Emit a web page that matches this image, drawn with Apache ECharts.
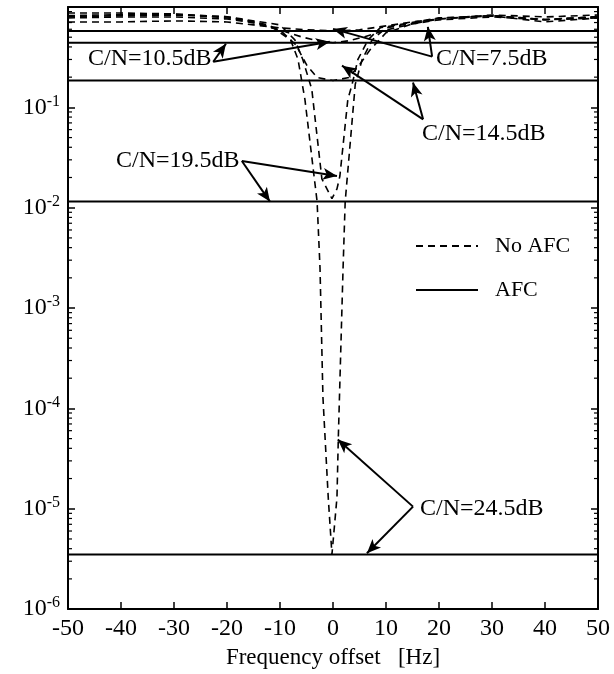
<!DOCTYPE html>
<html>
<head>
<meta charset="utf-8">
<script src="https://cdn.jsdelivr.net/npm/echarts@6/dist/echarts.min.js"></script>
<style>
  html, body { margin: 0; padding: 0; background: #fff; }
  #chart { width: 614px; height: 674px; }
</style>
</head>
<body>
<div id="chart"></div>
<script>
var FONT = '"Liberation Serif", "DejaVu Serif", serif';

// No AFC curves (dashed), x = offset in Hz, y = BER
var noAfc75X = [-50, -40, -30, -20, -15, -10, -5, 0, 5, 10, 15, 20, 30, 40, 50];
var noAfc75Y = [0.71, 0.71, 0.727, 0.71, 0.663, 0.62, 0.592, 0.578, 0.592, 0.648, 0.71, 0.76, 0.815, 0.71, 0.778];

var noAfc105X = [-50, -40, -30, -20, -15, -10, -6, -3, 0, 3, 6, 10, 15, 20, 30, 40, 50];
var noAfc105Y = [0.778, 0.796, 0.796, 0.76, 0.694, 0.59, 0.505, 0.461, 0.44, 0.461, 0.505, 0.59, 0.679, 0.744, 0.796, 0.744, 0.778];

var noAfc145X = [-50, -40, -30, -20, -15, -10, -7, -5, -3, 0, 3, 5, 7, 10, 15, 20, 30, 40, 50];
var noAfc145Y = [0.872, 0.872, 0.853, 0.778, 0.71, 0.59, 0.42, 0.266, 0.198, 0.185, 0.198, 0.266, 0.375, 0.553, 0.679, 0.76, 0.833, 0.796, 0.833];

var noAfc195X = [-50, -40, -30, -20, -10, -7.2, -5.7, -4, -2.1, -0.2, 0.75, 1.3, 2.8, 3.6, 4.7, 6.6, 8.9, 20, 30, 40, 50];
var noAfc195Y = [0.82, 0.84, 0.85, 0.8, 0.663, 0.47, 0.30, 0.151, 0.0194, 0.0123, 0.0154, 0.0207, 0.12, 0.169, 0.30, 0.47, 0.62, 0.78, 0.82, 0.75, 0.8];

var noAfc245X = [-50, -40, -30, -20, -12, -8, -6.6, -5.3, -3, -2.45, -1.9, -0.9, -0.2, 0.75, 1, 1.9, 2.3, 4.2, 5.5, 7.4, 10, 20, 30, 40, 50];
var noAfc245Y = [0.8, 0.82, 0.83, 0.8, 0.66, 0.47, 0.30, 0.12, 0.0115, 0.0025, 1.3e-4, 1.3e-5, 3.5e-6, 1.3e-5, 5e-5, 2.5e-3, 0.0115, 0.17, 0.30, 0.47, 0.62, 0.77, 0.82, 0.75, 0.8];

// AFC (solid, flat) BER for C/N = 7.5, 10.5, 14.5, 19.5, 24.5 dB
var afcY = [0.578, 0.44, 0.185, 0.0115, 3.5e-6];

// annotation arrows: [fromX, fromY, toX, toY]
var arrows = [
  [-22.6, 0.285, -20.2, 0.43],
  [-22.6, 0.285, -0.6, 0.45],
  [18.7, 0.32, 17.9, 0.634],
  [18.7, 0.32, 0, 0.605],
  [17, 0.076, 1.7, 0.26],
  [17, 0.076, 15.1, 0.177],
  [-17.2, 0.0292, 0.75, 0.0207],
  [-17.2, 0.0292, -11.9, 0.0115],
  [15.1, 1.05e-5, 0.9, 4.9e-5],
  [15.1, 1.05e-5, 6.4, 3.6e-6]
];

// minor log ticks 2..9 x 10^k
var minorTicks = [];
for (var k = -6; k < 0; k++) {
  for (var m = 2; m <= 9; m++) minorTicks.push(m * Math.pow(10, k));
}

function pairs(xs, ys) {
  return xs.map(function (x, i) { return [x, ys[i]]; });
}

var dashed = [7, 5];
var series = [];
[[noAfc75X, noAfc75Y], [noAfc105X, noAfc105Y], [noAfc145X, noAfc145Y],
 [noAfc195X, noAfc195Y], [noAfc245X, noAfc245Y]].forEach(function (c) {
  series.push({
    name: 'No AFC', type: 'line', symbol: 'none', silent: true,
    lineStyle: { color: '#000', width: 1.6, type: dashed },
    itemStyle: { color: '#000' },
    data: pairs(c[0], c[1])
  });
});
afcY.forEach(function (v) {
  series.push({
    name: 'AFC', type: 'line', symbol: 'none', silent: true,
    lineStyle: { color: '#000', width: 2, type: 'solid' },
    itemStyle: { color: '#000' },
    data: [[-50, v], [50, v]]
  });
});

// arrows
series.push({
  type: 'line', data: [], silent: true,
  markLine: {
    silent: true, symbol: ['none', 'arrow'], symbolSize: [9, 14],
    label: { show: false },
    lineStyle: { color: '#000', width: 2, type: 'solid' },
    data: arrows.map(function (a) {
      return [{ coord: [a[0], a[1]] }, { coord: [a[2], a[3]] }];
    })
  }
});

// minor ticks on left and right frame
series.push({
  type: 'custom', silent: true, clip: false,
  data: minorTicks.map(function (v) { return [0, v]; }),
  renderItem: function (params, api) {
    var l = api.coord([-50, api.value(1)]);
    var r = api.coord([50, api.value(1)]);
    var st = { stroke: '#000', lineWidth: 1.2 };
    return {
      type: 'group',
      children: [
        { type: 'line', shape: { x1: l[0], y1: l[1], x2: l[0] + 4, y2: l[1] }, style: st },
        { type: 'line', shape: { x1: r[0], y1: r[1], x2: r[0] - 4, y2: r[1] }, style: st }
      ]
    };
  }
});

var chart = echarts.init(document.getElementById('chart'));
var textStyle = { fontFamily: FONT, fontSize: 24, color: '#000' };

chart.setOption({
  animation: false,
  backgroundColor: '#fff',
  grid: { left: 68, right: 16, top: 7, bottom: 61 },
  legend: {
    orient: 'vertical', left: 410, top: 230, itemGap: 22,
    itemWidth: 62, itemHeight: 14,
    data: ['No AFC', 'AFC'],
    itemStyle: { opacity: 0 },
    textStyle: { fontFamily: FONT, fontSize: 22, color: '#000', padding: [0, 0, 0, 12] }
  },
  xAxis: [{
    type: 'value', min: -50, max: 50, interval: 10,
    name: 'Frequency offset   [Hz]', nameLocation: 'middle', nameGap: 36,
    nameTextStyle: { fontFamily: FONT, fontSize: 23, color: '#000' },
    axisLine: { onZero: false, lineStyle: { color: '#000', width: 2 } },
    axisTick: { inside: true, length: 7, lineStyle: { color: '#000', width: 1.5 } },
    axisLabel: { fontFamily: FONT, fontSize: 24, color: '#000', margin: 8 },
    splitLine: { show: false }
  }, {
    type: 'value', min: -50, max: 50, interval: 10, position: 'top',
    axisLine: { onZero: false, lineStyle: { color: '#000', width: 2 } },
    axisTick: { inside: true, length: 7, lineStyle: { color: '#000', width: 1.5 } },
    axisLabel: { show: false }, splitLine: { show: false }
  }],
  yAxis: [{
    type: 'log', logBase: 10, min: 1e-6, max: 1, splitNumber: 6, position: 'left',
    axisLine: { show: true, onZero: false, lineStyle: { color: '#000', width: 2 } },
    axisTick: { show: true, inside: true, length: 7, lineStyle: { color: '#000', width: 1.5 } },
    splitLine: { show: false },
    axisLabel: {
      margin: 8,
      formatter: function (v) {
        var e = Math.round(Math.log10(v));
        if (e === 0) return '';
        return '{b|10}{s|' + e + '}';
      },
      rich: {
        b: { fontFamily: FONT, fontSize: 24, color: '#000' },
        s: { fontFamily: FONT, fontSize: 16, color: '#000', padding: [0, 0, 12, 0] }
      }
    }
  }, {
    type: 'log', logBase: 10, min: 1e-6, max: 1, splitNumber: 6, position: 'right',
    axisLine: { show: true, onZero: false, lineStyle: { color: '#000', width: 2 } },
    axisTick: { show: true, inside: true, length: 7, lineStyle: { color: '#000', width: 1.5 } },
    axisLabel: { show: false }, splitLine: { show: false }
  }],
  graphic: [
    { type: 'text', left: 88, top: 47, style: Object.assign({ text: 'C/N=10.5dB' }, textStyle) },
    { type: 'text', left: 436, top: 47, style: Object.assign({ text: 'C/N=7.5dB' }, textStyle) },
    { type: 'text', left: 422, top: 122, style: Object.assign({ text: 'C/N=14.5dB' }, textStyle) },
    { type: 'text', left: 116, top: 149, style: Object.assign({ text: 'C/N=19.5dB' }, textStyle) },
    { type: 'text', left: 420, top: 497, style: Object.assign({ text: 'C/N=24.5dB' }, textStyle) }
  ],
  series: series
});
</script>
</body>
</html>
